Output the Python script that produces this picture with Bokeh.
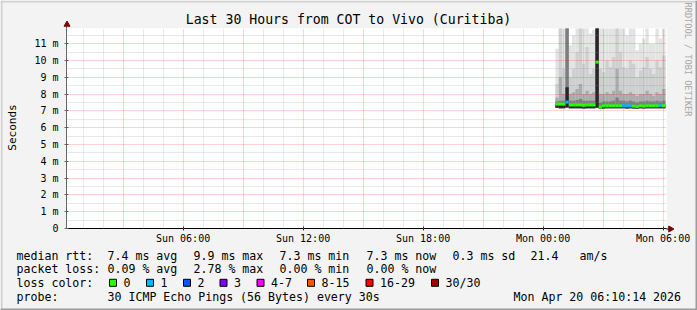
import math
from bokeh.plotting import figure
from bokeh.layouts import column
from bokeh.models import Range1d, FixedTicker, Label, InlineStyleSheet
from bokeh.embed import file_html
from bokeh.resources import INLINE

# ---------------- data ----------------
TITLE = "Last 30 Hours from COT to Vivo (Curitiba)"
END_HOUR = 24 + 6 + 10 / 60 + 14 / 3600      # Mon 06:10:14, hours since Sun 00:00
SPAN_HOURS = 30

tick_hours = [6, 12, 18, 24, 30]
tick_labels = ["Sun 06:00", "Sun 12:00", "Sun 18:00", "Mon 00:00", "Mon 06:00"]
y_ticks = [0, 1, 2, 3, 4, 5, 6, 7, 8, 9, 10, 11]
y_tick_labels = ["0", "1 m", "2 m", "3 m", "4 m", "5 m", "6 m", "7 m", "8 m", "9 m", "10 m", "11 m"]

times = ["00:37", "00:47", "00:57", "01:07", "01:17", "01:27", "01:37", "01:47", "01:57",
         "02:07", "02:17", "02:27", "02:37", "02:47", "02:57", "03:07", "03:17", "03:27",
         "03:37", "03:47", "03:57", "04:07", "04:17", "04:27", "04:37", "04:47", "04:57",
         "05:07", "05:17", "05:27", "05:37", "05:47", "05:57"]
COL_MIN = 10

median_ms = [7.40, 7.40, 7.40, 7.52, 7.35, 7.35, 7.35, 7.35, 7.33, 7.35, 7.35, 7.35, 9.90,
             7.22, 7.30, 7.30, 7.30, 7.30, 7.30, 7.30, 7.30, 7.30, 7.30, 7.28, 7.25, 7.30,
             7.28, 7.30, 7.30, 7.30, 7.30, 7.32, 7.30]
min_ms = [7.18, 7.16, 7.16, 7.20, 7.15, 7.15, 7.15, 7.15, 7.14, 7.15, 7.15, 7.15, 7.18,
          7.12, 7.14, 7.15, 7.15, 7.15, 7.15, 7.15, 7.15, 7.14, 7.15, 7.14, 7.12, 7.15,
          7.14, 7.15, 7.15, 7.15, 7.15, 7.16, 7.15]
core_hi_ms = [7.40, 7.40, 7.40, 8.40, 7.35, 7.35, 7.35, 7.35, 7.33, 7.35, 7.35, 7.35, 12.5,
              7.22, 7.30, 7.30, 7.30, 7.30, 7.30, 7.30, 7.30, 7.30, 7.30, 7.28, 7.25, 7.30,
              7.28, 7.30, 7.30, 7.30, 7.30, 7.32, 7.30]
inner_hi_ms = [7.55, 7.60, 7.60, 12.5, 7.60, 7.60, 7.65, 7.70, 7.60, 7.60, 7.60, 7.60, 12.5,
               7.50, 7.55, 7.55, 7.55, 7.60, 7.80, 7.60, 7.60, 7.55, 7.60, 7.55, 7.50, 7.55,
               7.55, 7.60, 7.55, 7.55, 7.60, 7.55, 7.60]
mid_hi_ms = [7.80, 9.00, 8.00, 12.5, 8.00, 8.10, 8.30, 8.60, 8.00, 8.20, 8.00, 8.10, 12.5,
             8.00, 8.00, 8.10, 8.00, 8.20, 9.50, 8.20, 8.00, 8.00, 8.10, 8.00, 7.90, 8.00,
             8.00, 8.20, 8.00, 7.90, 8.10, 8.00, 8.30]
outer_hi_ms = [8.60, 12.5, 9.50, 12.5, 9.00, 9.50, 10.5, 12.5, 9.80, 10.8, 9.20, 9.50, 12.5,
               9.50, 9.30, 10.0, 9.60, 10.2, 12.5, 10.5, 9.60, 9.50, 10.0, 9.80, 9.00, 9.40,
               9.60, 10.2, 9.50, 9.20, 10.0, 9.60, 10.3]
max_ms = [10.7, 12.5, 12.5, 12.5, 10.9, 11.5, 12.5, 12.5, 12.5, 12.5, 11.6, 11.8, 12.5,
          12.5, 12.5, 12.5, 12.5, 12.5, 12.5, 12.5, 12.5, 11.5, 12.5, 12.5, 10.6, 11.0,
          11.3, 12.5, 11.0, 11.0, 12.5, 11.3, 12.5]
lost_pings = [0, 0, 0, 1, 0, 0, 0, 0, 0, 0, 0, 0, 0, 0, 0, 0, 0, 0, 0, 0, 1, 1, 1, 0, 0, 0,
              0, 0, 0, 0, 0, 1, 0]

loss_names = ["0", "1", "2", "3", "4-7", "8-15", "16-29", "30/30"]
loss_lower = [0, 1, 2, 3, 4, 8, 16, 30]
loss_colors = ["#26ff00", "#00b8ff", "#0059ff", "#7e00ff", "#ff00ff", "#ff5500", "#ff0000", "#a00000"]

stats_rtt = ["7.4 ms avg", "9.9 ms max", "7.3 ms min", "7.3 ms now", "0.3 ms sd", "21.4", "am/s"]
stats_loss = ["0.09 % avg", "2.78 % max", "0.00 % min", "0.00 % now"]
probe_text = "30 ICMP Echo Pings (56 Bytes) every 30s"
stamp_text = "Mon Apr 20 06:10:14 2026"

# ---------------- derived ----------------
def to_hours(s):
    h, m = s.split(":")
    return 24 + int(h) + int(m) / 60

left = [to_hours(t) for t in times]
right = [l + COL_MIN / 60 for l in left]

def loss_color(n):
    c = loss_colors[0]
    for lo, col in zip(loss_lower, loss_colors):
        if n >= lo:
            c = col
    return c

W, H = 697, 310
FL, FR, FT, FB = 66, 666, 28, 228      # frame edges in canvas pixels
X0, X1 = END_HOUR - SPAN_HOURS, END_HOUR

# ---------------- main chart ----------------
p = figure(width=W, height=H, output_backend="svg", toolbar_location=None, title=None,
           x_range=Range1d(X0, X1), y_range=Range1d(0.0, 11.9),
           min_border_left=FL, min_border_right=W - FR, min_border_top=FT,
           min_border_bottom=H - FB)
p.background_fill_color = "white"
p.border_fill_color = "#f3f3f3"
p.outline_line_color = None

layers = [(max_ms, "#e3e3e3"), (outer_hi_ms, "#cfcfcf"), (mid_hi_ms, "#ababab"),
          (inner_hi_ms, "#7d7d7d"), (core_hi_ms, "#262626")]
for hi, col in layers:
    p.quad(left=left, right=right, bottom=min_ms, top=hi, fill_color=col, line_color=None)

seg = p.segment(x0=left, y0=median_ms, x1=right, y1=median_ms,
                line_color=[loss_color(n) for n in lost_pings], line_width=3)
seg.level = "annotation"

xa = p.xaxis[0]
xa.ticker = FixedTicker(ticks=tick_hours)
xa.major_label_overrides = {h: s for h, s in zip(tick_hours, tick_labels)}
xa.axis_line_color = "#000000"
xa.major_tick_line_color = "#333333"
xa.major_tick_out = 2
xa.major_tick_in = 2
xa.major_label_standoff = 2
xa.minor_tick_line_color = None

ya = p.yaxis[0]
ya.ticker = FixedTicker(ticks=y_ticks, minor_ticks=[t + 0.5 for t in y_ticks])
ya.major_label_overrides = {t: s for t, s in zip(y_ticks, y_tick_labels)}
ya.axis_line_color = "#666666"
ya.major_tick_line_color = "#666666"
ya.major_tick_out = 2
ya.major_tick_in = 2
ya.major_label_standoff = 4
ya.minor_tick_line_color = None

for ax in (xa, ya):
    ax.major_label_text_font = "DejaVu Sans Mono"
    ax.major_label_text_font_size = "10px"
    ax.major_label_text_color = "#000000"

hours_all = list(range(1, 31))
p.xgrid.ticker = FixedTicker(ticks=[h for h in hours_all if h % 3 == 0],
                             minor_ticks=[h for h in hours_all if h % 3 != 0])
for g in (p.xgrid[0], p.ygrid[0]):
    g.level = "guide"
    g.grid_line_color = "#ff0000"
    g.grid_line_alpha = 0.35
    g.grid_line_dash = "1 1"
    g.minor_grid_line_color = "#909090"
    g.minor_grid_line_alpha = 0.4
    g.minor_grid_line_dash = "1 1"

# ---------------- overlay for the texts around the frame ----------------
ov = figure(width=W, height=H, output_backend="svg", toolbar_location=None, title=None,
            x_range=Range1d(0, W), y_range=Range1d(H, 0),
            x_axis_location=None, y_axis_location=None, min_border=0)
ov.xgrid.visible = False
ov.ygrid.visible = False
ov.outline_line_color = None
ov.background_fill_color = None
ov.border_fill_color = None
ov.stylesheets = [InlineStyleSheet(css=":host { position: absolute !important; "
                                       "top: 0px !important; left: 0px !important; "
                                       "pointer-events: none; }")]

separate_roots = False
try:
    ov.frame_align = False
    p.frame_align = False
except AttributeError:
    separate_roots = True

# image border (light top/left, dark bottom/right)
ov.quad(left=[0, 0], right=[W, 2], top=[0, 0], bottom=[2, H], fill_color="#d0d0d0", line_color=None)
ov.quad(left=[W - 2, 0], right=[W, W], top=[0, H - 2], bottom=[H, H], fill_color="#9c9c9c", line_color=None)

# axis arrows
ov.segment(x0=[FR, FL], y0=[FB + 0.5, FT], x1=[FR + 3, FL], y1=[FB + 0.5, FT - 3],
           line_color=["#000000", "#666666"], line_width=1)
ov.scatter(x=[FR + 4, FL + 0.5], y=[FB + 0.5, FT - 4], marker="triangle", size=6,
           angle=[-math.pi / 2, 0.0], fill_color="#7f0000", line_color="#7f0000")

def lab(text, cx, cy, size="11.6px", align="left", angle=0.0, color="#000000"):
    ov.add_layout(Label(x=cx, y=cy, text=text,
                        text_font="DejaVu Sans Mono", text_font_size=size,
                        text_align=align, text_baseline="middle", angle=angle,
                        text_color=color))

lab(TITLE, 348, 19, size="13.2px", align="center")
lab("Seconds", 12, 127, size="11px", align="center", angle=math.pi / 2)
lab("RRDTOOL / TOBI OETIKER", 687, 59, size="8.6px", align="center",
    angle=-math.pi / 2, color="#a8a8a8")

ROWS = [255, 268.5, 282.3, 296]
lab("median rtt:", 16, ROWS[0])
for txt, x in zip(stats_rtt, [107, 193, 279, 366, 452, 530, 579]):
    lab(txt, x, ROWS[0])
lab("packet loss:", 16, ROWS[1])
for txt, x in zip(stats_loss, [107, 193, 279, 366]):
    lab(txt, x, ROWS[1])
lab("loss color:", 16, ROWS[2])
swatch_x = [109, 146, 183, 219.5, 256.5, 307, 365.5, 431]
ov.quad(left=swatch_x, right=[s + 7 for s in swatch_x],
        top=[ROWS[2] - 3.5] * len(swatch_x), bottom=[ROWS[2] + 3.5] * len(swatch_x),
        fill_color=loss_colors, line_color="#000000", line_width=1)
for name, sx in zip(loss_names, swatch_x):
    lab(name, sx + 14, ROWS[2])
lab("probe:", 16, ROWS[3])
lab(probe_text, 107, ROWS[3])
lab(stamp_text, 513, ROWS[3])

if separate_roots:
    html = file_html([p, ov], INLINE)
else:
    html = file_html(column(p, ov), INLINE)
open("out.html", "w").write(html)
